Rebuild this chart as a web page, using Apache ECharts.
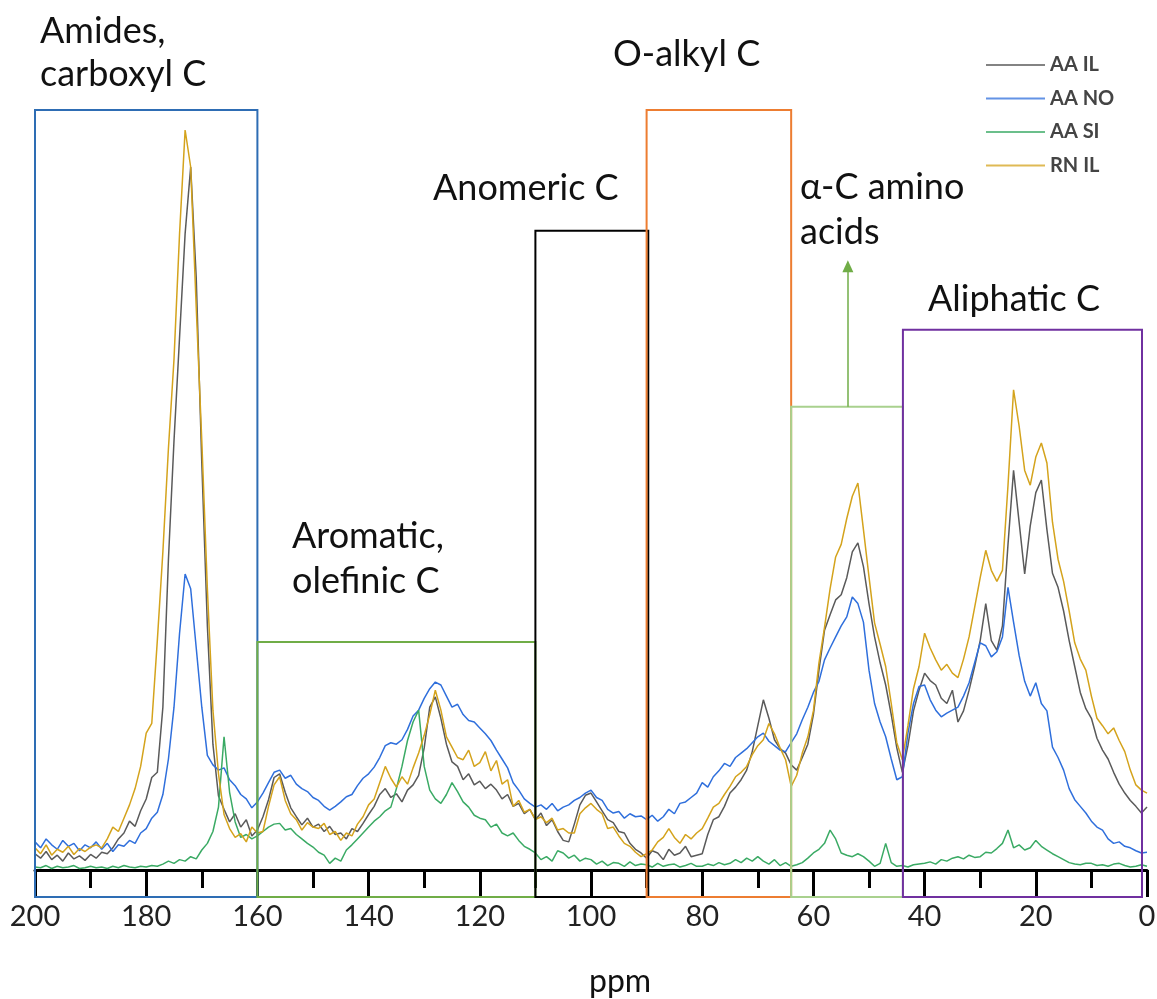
<!DOCTYPE html>
<html>
<head>
<meta charset="utf-8">
<title>13C NMR spectra</title>
<script src="https://cdn.jsdelivr.net/npm/echarts@6/dist/echarts.min.js"></script>
<style>
  html, body { margin: 0; padding: 0; background: #fff; }
  #chart { width: 1157px; height: 999px; }
</style>
</head>
<body>
<div id="chart"></div>
<script>
// chemical shift grid, 200 -> 0 ppm, 1 ppm step
const ppm = [];
for (let p = 200; p >= 0; p--) ppm.push(p);

// intensities (a.u.), one value per ppm from 200 down to 0
const aaIL = [
  2.2, 1.6, 2.5, 1.4, 2.0, 1.2, 2.3, 1.5, 1.9, 1.3,
  2.1, 1.6, 2.4, 2.2, 3.0, 4.2, 5.0, 6.6, 5.9, 8.0,
  9.6, 12.5, 13.2, 22, 42, 58, 72, 86, 95, 80,
  55, 33, 17, 10, 8.2, 6.5, 7.6, 5.8, 6.8, 4.6,
  5.4, 7.2, 9.5, 12.5, 13, 10.5, 8.4, 7.2, 6.1, 7.0,
  5.8, 6.2, 5.2, 5.9, 4.8, 5.0, 4.2, 5.6, 5.2, 6.3,
  7.5, 8.6, 10.2, 11, 9.8, 10.3, 9.2, 10.8, 11.5, 12.8,
  16.5, 22, 23.4, 20.5, 17, 14.6, 14, 12.2, 13, 11.5,
  12, 11, 11.6, 10.8, 9.6, 10.2, 8.6, 9, 7.6, 8.2,
  6.8, 7.7, 6.0, 6.8, 5.2, 4.0, 3.8, 6.2, 8.8, 10.1,
  10.4, 9.2, 8.0, 6.8, 6.4, 5.2, 5.0, 3.6, 2.8, 2.3,
  1.6, 2.6, 2.3, 1.4, 2.8, 2.0, 2.3, 3.2, 1.8, 2.0,
  2.2, 4.8, 6.8, 7.2, 8.6, 10.4, 11.2, 12.2, 13.5, 16,
  19.5, 23, 20.5, 17.6, 16.4, 15.8, 14.2, 13.5, 15.2, 17,
  21, 27, 32.4, 34.5, 36.5, 37.2, 39.5, 43, 44.2, 41,
  36, 31.5, 28, 25, 21, 16.5, 13.2, 16.8, 21.5, 24.3,
  26.6, 25.6, 25, 23.2, 22.5, 24.3, 20, 21.5, 24.3, 27.5,
  31, 36, 31, 29.7, 33, 44, 54, 47, 40, 46.5,
  51, 52.7, 46, 40.1, 38.2, 35, 31, 27.5, 24, 21.8,
  20.5, 17.8, 16.2, 15, 13.2, 11.6, 10.4, 9.4, 8.6, 7.7, 8.5
];
const aaNO = [
  3.8, 3.0, 4.2, 3.4, 2.8, 4.0, 3.2, 3.6, 2.6, 3.4,
  3.0, 3.8, 2.8, 3.6, 2.5, 3.4, 3.2, 4.0, 3.6, 5.0,
  5.6, 7.0, 7.8, 10.2, 15, 22, 32, 40, 38, 30,
  22, 15.5, 14.2, 13.5, 13.8, 12.2, 11.4, 10.2, 9.6, 8.4,
  9.2, 10.4, 11.8, 13.2, 13.5, 12.4, 12.8, 11.6, 11.0, 10.6,
  9.8, 9.4, 8.6, 8.1, 8.6, 9.2, 9.9, 10.2, 11.4, 12.4,
  13.0, 13.9, 15.2, 16.8, 17.2, 17.0, 17.6, 19.0, 20.8, 21.6,
  23.2, 24.5, 25.4, 25.0, 23.5, 22.0, 22.4, 21.0, 20.2, 20.0,
  19.2, 18.4, 17.5, 16.2, 15.0, 13.8, 11.8, 10.8, 9.6, 9.0,
  8.5, 8.8, 8.2, 9.0, 8.0, 8.5, 8.8, 9.4, 9.8, 10.4,
  10.8, 9.8, 9.4, 8.2, 7.7, 7.9, 7.0, 7.6, 7.2, 7.3,
  6.8, 7.4, 6.6, 7.2, 8.2, 7.6, 9.0, 9.2, 9.8, 10.4,
  11.8, 11.2, 12.6, 13.4, 14.4, 14.0, 15.2, 15.8, 16.4, 17.2,
  18.0, 18.5, 17.4, 16.8, 16.2, 16.0, 17.2, 18.4, 20.3, 22.0,
  24.0, 25.5, 28.4, 30.0, 31.5, 33.0, 34.2, 36.9, 36.0, 33.5,
  27, 22.5, 20, 18, 15, 12.2, 12.6, 18.5, 22.5, 24.8,
  25, 23, 21.6, 20.7, 21.2, 21.6, 22, 23.5, 25.3, 28,
  30.7, 30.3, 28.8, 29.5, 31.5, 38.2, 33.5, 29, 25.5, 23.5,
  25.3, 22.5, 21.5, 16.6, 15.2, 13.5, 11.0, 9.5, 8.6, 7.7,
  6.6, 5.8, 5.4, 4.2, 3.6, 3.8, 3.2, 3.0, 2.6, 2.3, 2.4
];
const aaSI = [
  0.4, 0.3, 0.6, 0.2, 0.5, 0.3, 0.4, 0.6, 0.2, 0.3,
  0.5, 0.3, 0.4, 0.2, 0.5, 0.3, 0.6, 0.4, 0.3, 0.5,
  0.4, 0.6, 0.5, 0.8, 1.2, 0.9, 1.4, 1.2, 1.8, 1.5,
  2.7, 3.6, 5.2, 8.5, 18, 10.5, 6.5, 4.4, 4.8, 4.2,
  4.6, 5.2, 5.8, 6.2, 6.3, 5.4, 5.6, 4.8, 4.2, 3.6,
  3.1, 2.4, 2.0, 0.9, 1.6, 1.2, 2.7, 3.4, 4.2, 5.0,
  5.8, 6.6, 7.2, 8.0, 8.5, 11, 14, 17.5, 20, 21.6,
  14, 10.8, 9.6, 9, 10.2, 11.8, 10.6, 9.2, 8.5, 7.4,
  7.0, 6.8, 5.8, 6.2, 5.0, 4.6, 5.0, 4.0, 3.2, 2.8,
  2.3, 1.4, 1.8, 1.2, 2.6, 2.3, 1.6, 2.0, 1.2, 1.6,
  1.4, 0.8, 1.2, 0.6, 1.0, 0.9, 0.5, 1.1, 0.6, 0.8,
  0.7, 0.4, 0.9, 0.5, 0.7, 0.8, 0.4, 0.6, 0.9, 0.5,
  0.5, 0.8, 0.6, 1.0, 0.7, 0.9, 1.4, 1.0, 1.6, 1.2,
  1.8, 1.2, 0.8, 1.4, 0.6, 1.0, 0.5, 0.7, 1.0, 1.6,
  2.3, 2.8, 3.6, 5.4, 4.2, 2.3, 2.0, 1.8, 2.2, 1.8,
  1.2, 0.5, 0.9, 3.6, 1.0, 0.5, 0.6, 0.4, 0.7, 0.8,
  0.9, 1.1, 0.8, 1.4, 1.2, 1.6, 1.8, 1.5, 2.0, 1.7,
  1.8, 2.4, 2.3, 2.9, 3.6, 5.4, 3.0, 3.4, 2.7, 3.0,
  4.0, 3.2, 2.7, 2.2, 1.8, 1.4, 1.0, 0.8, 0.7, 0.9,
  0.9, 0.6, 0.7, 0.5, 0.8, 0.9, 0.6, 0.4, 0.5, 0.7, 0.5
];
const rnIL = [
  3.0, 2.2, 3.4, 2.0, 2.8, 2.4, 3.2, 2.1, 2.9, 2.5,
  3.1, 3.4, 3.0, 4.2, 5.8, 5.2, 7.0, 8.8, 11.0, 14.0,
  18.5, 19.8, 31, 43, 57, 69, 86, 100, 95, 76,
  58, 38, 21.6, 13, 7.5, 5.6, 4.4, 4.9, 3.8, 5.8,
  5.0, 5.2, 8.6, 11.5, 12.6, 9.4, 7.6, 6.8, 5.4, 6.4,
  5.8, 5.6, 6.3, 4.8, 5.2, 4.0, 5.0, 4.6, 6.2, 7.2,
  8.8, 9.6, 11.8, 14, 12.4, 11.2, 12.6, 11.6, 13.8, 15.8,
  18.2, 21, 24.3, 21.6, 18, 16.6, 15.2, 14.9, 16.2, 14.0,
  14.5, 16.0, 13.4, 14.8, 11.6, 12.2, 8.6, 9.4, 7.8, 8.2,
  6.8, 7.2, 6.4, 7.0, 5.4, 5.6, 5.0, 5.0, 7.6, 8.4,
  9.0, 8.2, 7.6, 5.6, 5.8, 4.6, 3.6, 3.2, 2.4, 1.8,
  2.2, 2.7, 3.8, 4.4, 5.6, 4.4, 3.6, 4.8, 4.2, 5.0,
  5.6, 7.0, 8.5, 9.0, 10.2, 11.3, 12.6, 13.2, 14, 15.6,
  16.8, 17.6, 19.8, 18.4, 16.5, 14.9, 11.3, 12.8, 15.8, 18,
  21.5, 28, 32.8, 38, 42.3, 44, 47.5, 50.5, 52.3, 46,
  39.6, 33.4, 30.5, 27.5, 22.5, 17.2, 14.9, 19.5, 24.5, 27.5,
  32, 30, 28.4, 27, 27.8, 26.6, 26, 28.5, 31.5, 35.5,
  39.5, 43.2, 40.5, 39, 40.5, 52, 64.9, 60, 54, 52,
  55.8, 57.7, 55, 47, 42, 39, 35, 30.7, 28.5, 27,
  23.5, 20.5, 19.5, 18.4, 19.2, 17.5, 16.0, 13.5, 11.5, 10.8, 10.4
];

const seriesNames = ['AA IL', 'AA NO', 'AA SI', 'RN IL'];
const seriesValues = [aaIL, aaNO, aaSI, rnIL];
const seriesColors = ['#5a5a5a', '#2f6fdc', '#3aaa64', '#d4a31c'];

// shift regions: [from ppm, to ppm, top intensity, colour]
const regionFrom = [200, 160, 110, 90, 64, 43.9];
const regionTo = [160, 110, 89.7, 64, 43.9, 0.9];
const regionTop = [102.7, 30.8, 86.4, 102.7, 62.6, 73];
const regionColors = ['#2e6db4', '#70ad47', '#000000', '#ed7d31', '#a9d18e', '#7030a0'];
const boxBottom = -3.65;

const chart = echarts.init(document.getElementById('chart'));
const font = 'Lato, "Open Sans", sans-serif';

const series = seriesNames.map((name, k) => ({
  name,
  type: 'line',
  data: ppm.map((p, i) => [p, seriesValues[k][i]]),
  symbol: 'none',
  lineStyle: { color: seriesColors[k], width: 1.5 },
  itemStyle: { color: seriesColors[k] },
  silent: true,
  z: 3,
}));

series[0].markArea = {
  silent: true,
  z: 4,
  data: regionFrom.map((from, i) => [
    {
      coord: [from, boxBottom],
      itemStyle: { color: 'rgba(0,0,0,0)', borderColor: regionColors[i], borderWidth: 2 },
    },
    { coord: [regionTo[i], regionTop[i]] },
  ]),
};
series[0].markLine = {
  silent: true,
  symbol: ['none', 'triangle'],
  symbolSize: [11, 12],
  label: { show: false },
  lineStyle: { color: '#70ad47', width: 1.5, type: 'solid' },
  data: [[{ coord: [53.8, 62.6] }, { coord: [53.8, 81.6] }]],
};

const textItem = (text, left, y, size = 36) => ({
  type: 'text',
  left,
  top: y - size / 2,
  style: { text, font: `${size}px ${font}`, fill: '#111', lineHeight: size },
});

chart.setOption({
  animation: false,
  backgroundColor: '#fff',
  grid: { left: 35, right: 10, top: 56, bottom: 99.4, outerBoundsMode: 'none' },
  legend: {
    data: seriesNames,
    orient: 'vertical',
    left: 981,
    top: 50,
    icon: 'rect',
    itemWidth: 59,
    itemHeight: 2,
    itemGap: 13.5,
    itemStyle: { opacity: 0.75 },
    textStyle: { fontFamily: font, fontSize: 20, fontWeight: 'bold', color: '#444', lineHeight: 20 },
  },
  xAxis: {
    type: 'value',
    inverse: true,
    min: 0,
    max: 200,
    interval: 20,
    axisLine: { onZero: true, lineStyle: { color: '#000', width: 3 } },
    axisTick: { length: 27, lineStyle: { color: '#000', width: 3 } },
    minorTick: { show: true, splitNumber: 2, length: 18, lineStyle: { color: '#000', width: 3 } },
    axisLabel: { margin: 3, fontFamily: font, fontSize: 29, color: '#222' },
    splitLine: { show: false },
  },
  yAxis: {
    type: 'value',
    min: -4,
    max: 110,
    show: false,
    splitLine: { show: false },
  },
  graphic: [
    textItem('Amides,', 40, 31),
    textItem('carboxyl C', 40, 74),
    textItem('O-alkyl C', 613, 54),
    textItem('Anomeric C', 433, 188),
    textItem('\u03b1-C amino', 800, 187),
    textItem('acids', 800, 232),
    textItem('Aliphatic C', 928, 299),
    textItem('Aromatic,', 292, 536),
    textItem('olefinic C', 292, 581),
    textItem('ppm', 589, 982, 32),
  ],
  series,
});
</script>
</body>
</html>
